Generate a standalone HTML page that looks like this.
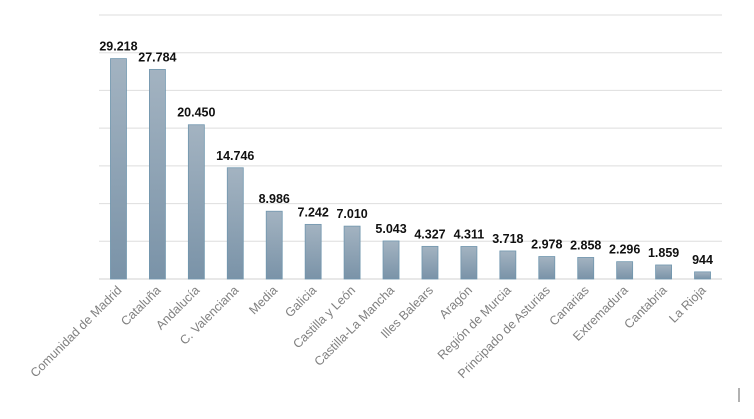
<!DOCTYPE html>
<html><head><meta charset="utf-8"><style>
body{margin:0;background:#fff;}
svg{display:block;font-family:"Liberation Sans",sans-serif;}
</style></head><body>
<svg width="754" height="419">
<defs><linearGradient id="g" x1="0" y1="0" x2="0" y2="1"><stop offset="0" stop-color="#a3b3c1"/><stop offset="1" stop-color="#7a93a8"/></linearGradient></defs>
<g id="grid"></g><g id="bars"></g><g id="labels"></g>
<line x1="739" y1="388" x2="739" y2="402" stroke="#666" stroke-width="1"/>
</svg>
<script>
const categories=["Comunidad de Madrid","Cataluña","Andalucía","C. Valenciana","Media","Galicia","Castilla y León","Castilla-La Mancha","Illes Balears","Aragón","Región de Murcia","Principado de Asturias","Canarias","Extremadura","Cantabria","La Rioja"];
const values=[29218,27784,20450,14746,8986,7242,7010,5043,4327,4311,3718,2978,2858,2296,1859,944];
const valueLabels=["29.218","27.784","20.450","14.746","8.986","7.242","7.010","5.043","4.327","4.311","3.718","2.978","2.858","2.296","1.859","944"];
const yTicks=[0,5000,10000,15000,20000,25000,30000,35000];
const NS="http://www.w3.org/2000/svg";
const x0=99,x1=722,yBase=279,yTop=15,yMax=35000;
const y=v=>yBase-(v/yMax)*(yBase-yTop);
const step=(x1-x0)/categories.length;
const xc=i=>x0+step*(i+0.5);
function mk(t,a,p){const e=document.createElementNS(NS,t);for(const k in a)e.setAttribute(k,a[k]);p.appendChild(e);return e;}
const grid=document.getElementById('grid'),bars=document.getElementById('bars'),labels=document.getElementById('labels');
yTicks.forEach(t=>{const l=mk('line',{x1:x0,x2:x1,y1:y(t),y2:y(t),stroke:t===0?'#d0d0d0':'#dedede','stroke-width':1},grid);

});
values.forEach((v,i)=>{const w=16;
const r=mk('rect',{x:xc(i)-w/2,y:y(v),width:w,height:yBase-y(v),fill:'url(#g)',stroke:'#7096ae','stroke-width':0.8},bars);


const t=mk('text',{x:xc(i),y:y(v)-8,'text-anchor':'middle','font-size':12.5,'font-weight':'bold',fill:'#111'},labels);
t.textContent=valueLabels[i];


const c=mk('text',{x:xc(i)+4,y:291,'text-anchor':'end','font-size':12.5,fill:'#808080',transform:`rotate(-45 ${xc(i)+4} 291)`},labels);
c.textContent=categories[i];

});
</script>
</body></html>
